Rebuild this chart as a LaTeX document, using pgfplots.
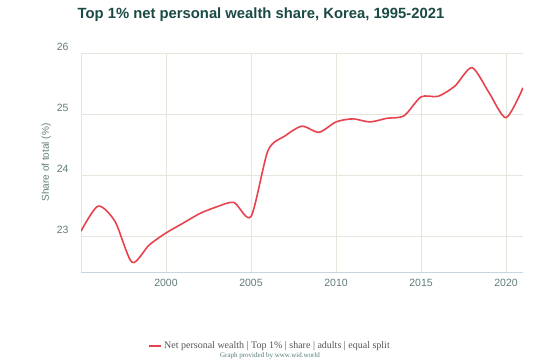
\documentclass[border=0pt]{standalone}
\usepackage{pgfplots}
\pgfplotsset{compat=1.18}
\usepackage{fontspec}
\setmainfont{Liberation Sans}
\newfontfamily\seriffont{Liberation Serif}
\definecolor{titlecol}{HTML}{1A4A44}
\definecolor{tickcol}{HTML}{5F7C7A}
\definecolor{gridcol}{HTML}{E6E6DC}
\definecolor{xaxcol}{HTML}{C5D5E6}
\definecolor{linecol}{HTML}{E8424E}
\definecolor{legcol}{HTML}{555555}
\definecolor{creditcol}{HTML}{4F7C78}
\begin{document}
\begin{tikzpicture}[x=1pt,y=1pt]
\useasboundingbox (0,0) rectangle (559,363);
\node[font=\bfseries\fontsize{14.8}{17}\selectfont, text=titlecol] at (261,348) {Top 1\% net personal wealth share, Korea, 1995-2021};
\begin{axis}[
  at={(81pt,91pt)}, anchor=south west,
  scale only axis, width=442pt, height=219pt,
  xmin=1995, xmax=2021, ymin=22.41, ymax=26,
  xtick={2000,2005,2010,2015,2020},
  ytick={23,24,25,26},
  xmajorgrids, ymajorgrids,
  grid style={gridcol, line width=0.8pt},
  axis lines*=left,
  axis line style={-},
  x axis line style={xaxcol, line width=0.8pt},
  y axis line style={gridcol, line width=0.8pt},
  major tick length=0pt,
  /pgf/number format/1000 sep={},
  /pgf/number format/assume math mode=true,
  tick label style={font=\fontsize{10.5}{12}\selectfont, text=tickcol},
  xticklabel style={yshift=-4pt},
  yticklabel style={yshift=6pt, xshift=-9pt},
  ylabel={Share of total (\%)},
  ylabel style={font=\fontsize{10}{12}\selectfont, text=tickcol, yshift=-1pt},
  legend style={at={(0.428,-0.338)}, anchor=center, draw=none, fill=none,
    font=\seriffont\fontsize{10}{12}\selectfont, text=legcol},
  legend image code/.code={\draw[#1, line width=1.6pt] (0pt,0pt) -- (12pt,0pt);},
]
\addplot[linecol, line width=1.6pt, smooth, tension=0.45] coordinates {
(1995,23.08) (1996,23.49) (1997,23.24) (1998,22.57) (1999,22.85)
(2000,23.05) (2001,23.21) (2002,23.37) (2003,23.48) (2004,23.55)
(2005,23.32) (2006,24.40) (2007,24.64) (2008,24.80) (2009,24.70)
(2010,24.87) (2011,24.92) (2012,24.87) (2013,24.93) (2014,24.97)
(2015,25.28) (2016,25.29) (2017,25.46) (2018,25.76) (2019,25.35)
(2020,24.94) (2021,25.43)
};
\addlegendentry{Net personal wealth | Top 1\% | share | adults | equal split}
\end{axis}
\node[font=\seriffont\fontsize{7}{8}\selectfont, text=creditcol] at (270,7) {Graph provided by www.wid.world};
\end{tikzpicture}
\end{document}
